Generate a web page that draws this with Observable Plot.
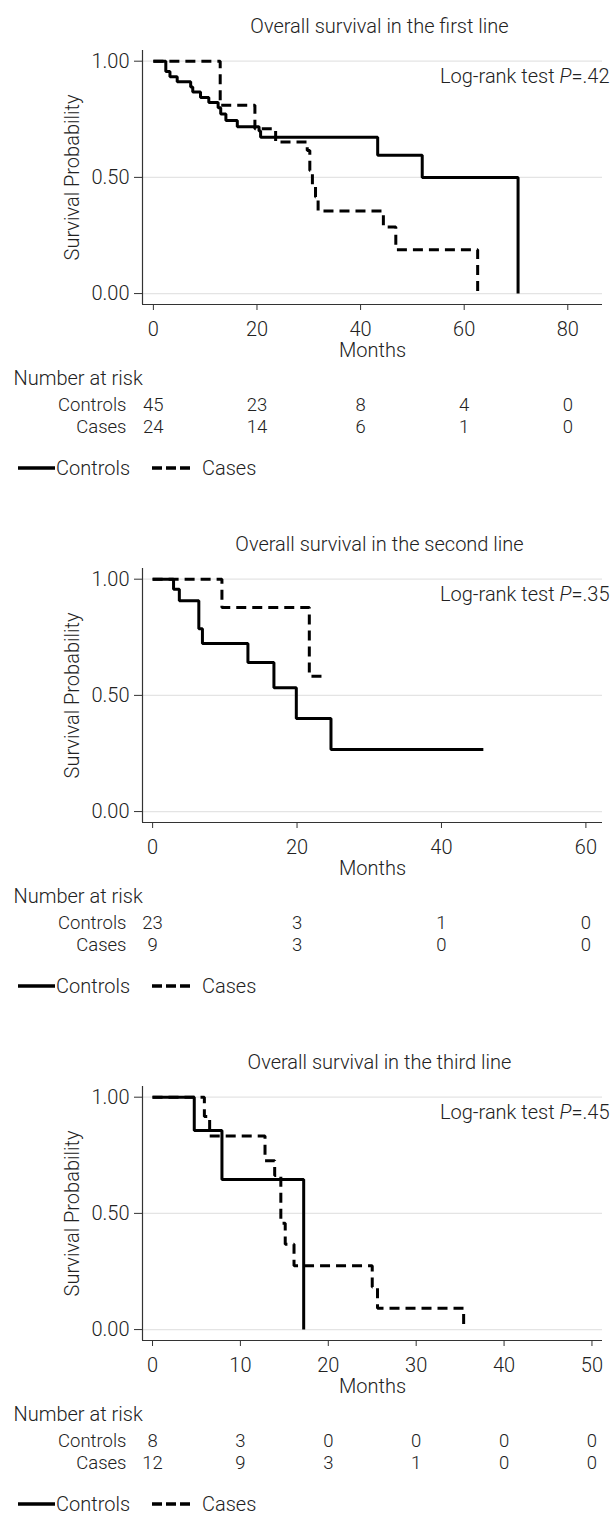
<!DOCTYPE html>
<html>
<head>
<meta charset="utf-8">
<script src="https://cdn.jsdelivr.net/npm/d3@7"></script>
<script src="https://cdn.jsdelivr.net/npm/@observablehq/plot@0.6"></script>
<style>
  html, body { margin: 0; padding: 0; background: #fff; }
  body { width: 614px; height: 1513px; overflow: hidden; font-family: Roboto, "Liberation Sans", sans-serif; font-weight: 300; color: #222; }
  .panel { position: relative; height: 518px; }
  .legend { position: relative; height: 56px; font-size: 20px; }
  .legend span { position: absolute; top: 50%; transform: translateY(-50%); line-height: 1; }
  .legend svg { position: absolute; left: 0; top: 0; }
</style>
</head>
<body>
<div id="chart"></div>
<script>
// ---------- Panel 1: first line ----------
const p1Title = "Overall survival in the first line";
const p1Pvalue = ".42";
const p1Ticks = [0, 20, 40, 60, 80];
const p1ControlsTime = [0, 2.4, 3.2, 4.6, 7.2, 7.6, 9.1, 10.7, 12.5, 13.0, 14.0, 16.2, 20.4, 20.7, 43.3, 51.9, 70.4];
const p1ControlsSurv = [1, 0.956, 0.933, 0.911, 0.889, 0.867, 0.844, 0.822, 0.80, 0.773, 0.745, 0.718, 0.70, 0.673, 0.595, 0.50, 0];
const p1CasesTime = [0, 12.9, 19.6, 23.6, 29.7, 30.2, 30.7, 31.3, 31.8, 44.4, 46.8, 62.6];
const p1CasesSurv = [1, 0.81, 0.709, 0.652, 0.616, 0.53, 0.459, 0.416, 0.355, 0.287, 0.189, 0];
const p1RiskControls = [45, 23, 8, 4, 0];
const p1RiskCases = [24, 14, 6, 1, 0];

// ---------- Panel 2: second line ----------
const p2Title = "Overall survival in the second line";
const p2Pvalue = ".35";
const p2Ticks = [0, 20, 40, 60];
const p2ControlsTime = [0, 2.9, 3.7, 6.4, 6.9, 13.2, 16.8, 19.9, 24.7, 45.8];
const p2ControlsSurv = [1, 0.957, 0.907, 0.787, 0.723, 0.641, 0.533, 0.40, 0.267, 0.267];
const p2CasesTime = [0, 9.6, 21.7, 24.0];
const p2CasesSurv = [1, 0.878, 0.582, 0.582];
const p2RiskControls = [23, 3, 1, 0];
const p2RiskCases = [9, 3, 0, 0];

// ---------- Panel 3: third line ----------
const p3Title = "Overall survival in the third line";
const p3Pvalue = ".45";
const p3Ticks = [0, 10, 20, 30, 40, 50];
const p3ControlsTime = [0, 4.75, 7.9, 17.2];
const p3ControlsSurv = [1, 0.857, 0.646, 0];
const p3CasesTime = [0, 5.9, 6.5, 12.8, 13.9, 14.6, 15.1, 16.1, 25.0, 25.6, 35.4];
const p3CasesSurv = [1, 0.917, 0.833, 0.727, 0.663, 0.458, 0.367, 0.275, 0.183, 0.092, 0];
const p3RiskControls = [8, 3, 0, 0, 0, 0];
const p3RiskCases = [12, 9, 3, 1, 0, 0];

const groupNames = ["Controls", "Cases"];
const yTicks = [0, 0.5, 1];
const yDomain = [-0.047, 1.046];

const FONT = "Roboto, 'Liberation Sans', sans-serif";
const FS = "20px";

const panels = [
  {title: p1Title, p: p1Pvalue, ticks: p1Ticks, xDomain: [-2.1, 86.7],
   cT: p1ControlsTime, cS: p1ControlsSurv, kT: p1CasesTime, kS: p1CasesSurv,
   rC: p1RiskControls, rK: p1RiskCases},
  {title: p2Title, p: p2Pvalue, ticks: p2Ticks, xDomain: [-1.4, 62.3],
   cT: p2ControlsTime, cS: p2ControlsSurv, kT: p2CasesTime, kS: p2CasesSurv,
   rC: p2RiskControls, rK: p2RiskCases},
  {title: p3Title, p: p3Pvalue, ticks: p3Ticks, xDomain: [-1.14, 51.2],
   cT: p3ControlsTime, cS: p3ControlsSurv, kT: p3CasesTime, kS: p3CasesSurv,
   rC: p3RiskControls, rK: p3RiskCases}
];

const root = document.getElementById("chart");

for (const cfg of panels) {
  const ctrl = cfg.cT.map((t, i) => ({t, s: cfg.cS[i]}));
  const cases = cfg.kT.map((t, i) => ({t, s: cfg.kS[i]}));
  const risk = cfg.ticks.map((t, i) => ({t, c: cfg.rC[i], k: cfg.rK[i]}));
  const pLabel = "Log-rank test P=" + cfg.p;
  const mid = {lineAnchor: "middle"};
  const row = {lineAnchor: "middle", fontSize: 18.5};

  const svg = Plot.plot({
    width: 614,
    height: 440,
    marginLeft: 142,
    marginRight: 12,
    marginTop: 50,
    marginBottom: 136,
    style: {fontFamily: FONT, fontSize: FS, fontWeight: 300, color: "#222", background: "white", overflow: "visible"},
    x: {domain: cfg.xDomain},
    y: {domain: yDomain},
    marks: [
      Plot.gridY(yTicks, {stroke: "#e4e4e4", strokeOpacity: 1, strokeWidth: 1.3}),
      Plot.ruleX([cfg.xDomain[0]], {stroke: "#333", strokeWidth: 1.2}),
      Plot.ruleY([yDomain[0]], {stroke: "#333", strokeWidth: 1.2}),
      Plot.axisY(yTicks, {tickSize: 8, tickPadding: 5, tickFormat: d3.format(".2f"), label: null, stroke: "#333"}),
      Plot.axisX(cfg.ticks, {tickSize: 6, tickPadding: 11, label: null, stroke: "#333"}),
      Plot.line(ctrl, {x: "t", y: "s", curve: "step-after", stroke: "black", strokeWidth: 3, strokeLinejoin: "miter", strokeLinecap: "butt"}),
      Plot.line(cases, {x: "t", y: "s", curve: "step-after", stroke: "black", strokeWidth: 3, strokeDasharray: "10,6", strokeLinejoin: "miter", strokeLinecap: "butt"}),
      Plot.text([cfg.title], {...mid, frameAnchor: "top", textAnchor: "middle", dx: 7, dy: -24}),
      Plot.text([pLabel], {...mid, frameAnchor: "top-right", textAnchor: "end", dx: 7, dy: 26}),
      Plot.text(["Survival Probability"], {...mid, frameAnchor: "left", textAnchor: "middle", rotate: -90, dx: -70}),
      Plot.text(["Months"], {...mid, frameAnchor: "bottom", textAnchor: "middle", dy: 46}),
      Plot.text(["Number at risk"], {...mid, frameAnchor: "bottom-left", textAnchor: "start", dx: -129, dy: 74}),
      Plot.text([groupNames[0]], {...row, frameAnchor: "bottom-left", textAnchor: "end", dx: -16, dy: 101}),
      Plot.text([groupNames[1]], {...row, frameAnchor: "bottom-left", textAnchor: "end", dx: -16, dy: 123}),
      Plot.text(risk, {...row, x: "t", text: "c", frameAnchor: "bottom", textAnchor: "middle", dy: 101}),
      Plot.text(risk, {...row, x: "t", text: "k", frameAnchor: "bottom", textAnchor: "middle", dy: 123})
    ]
  });

  // italic P in the log-rank label
  for (const el of svg.querySelectorAll("text")) {
    if (el.textContent === pLabel) {
      el.textContent = "";
      const ns = "http://www.w3.org/2000/svg";
      const a = document.createElementNS(ns, "tspan"); a.textContent = "Log-rank test ";
      const b = document.createElementNS(ns, "tspan"); b.textContent = "P"; b.setAttribute("font-style", "italic");
      const c = document.createElementNS(ns, "tspan"); c.textContent = "=" + cfg.p;
      el.append(a, b, c);
    }
  }

  const panel = document.createElement("div");
  panel.className = "panel";
  panel.appendChild(svg);

  const legend = document.createElement("div");
  legend.className = "legend";
  legend.innerHTML =
    '<svg width="614" height="56">' +
    '<line x1="18" x2="55" y1="28" y2="28" stroke="black" stroke-width="3.5"/>' +
    '<line x1="152" x2="190" y1="28" y2="28" stroke="black" stroke-width="3.5" stroke-dasharray="10,4"/>' +
    '</svg>' +
    '<span style="left:56px">' + groupNames[0] + '</span>' +
    '<span style="left:202px">' + groupNames[1] + '</span>';
  panel.appendChild(legend);
  root.appendChild(panel);
}
</script>
</body>
</html>
